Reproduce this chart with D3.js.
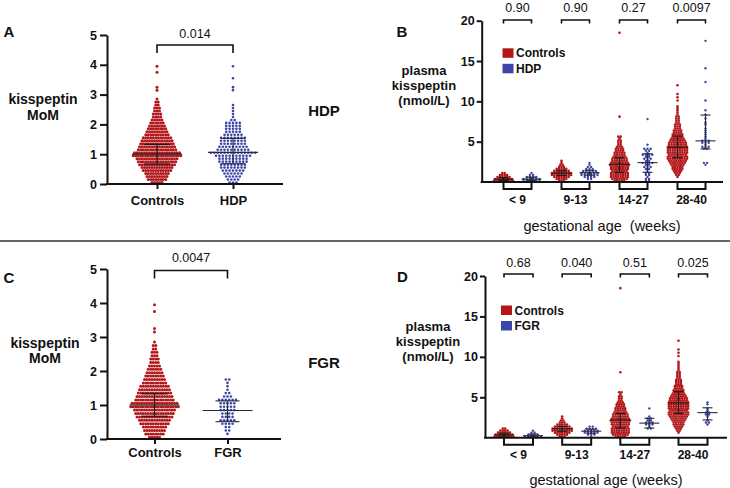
<!DOCTYPE html>
<html>
<head>
<meta charset="utf-8">
<script src="https://cdn.jsdelivr.net/npm/d3@7"></script>
<style>
  body { margin: 0; background: #fff; }
  text { font-family: "Liberation Sans", Arial, sans-serif; }
</style>
</head>
<body>
<svg id="chart" width="730" height="488"></svg>
<script>
const momBinWidth = 0.1;   // kisspeptin MoM bins: 0-0.1, 0.1-0.2, ...
const controlsMoM = [5, 8, 9, 10, 12, 13, 15, 16, 17, 20, 19, 16, 15, 14, 13, 12, 10, 9, 8, 7,
                     6, 5, 4, 4, 3, 3, 2, 2, 1, 0, 0, 1, 1, 0, 0, 0, 0, 1, 0, 1];
const hdpMoM = [3, 4, 5, 6, 7, 8, 8, 9, 9, 11, 14, 10, 9, 8, 8, 8, 6, 5, 5, 5,
                5, 2, 1, 1, 1, 1, 1, 0, 0, 0, 0, 1, 1, 0, 0, 1, 0, 0, 0, 1];
const fgrMoM = [0, 1, 2, 2, 4, 5, 4, 4, 5, 5, 5, 6, 3, 2, 1, 1, 1, 2];
// [lower quartile, median, upper quartile]
const controlsMoMStats = [0.67, 1.0, 1.33];
const hdpMoMStats = [0.68, 1.06, 1.53];
const fgrMoMStats = [0.51, 0.84, 1.12];
const pHdpMoM = "0.014";
const pFgrMoM = "0.0047";

const ageGroups = ["< 9", "9-13", "14-27", "28-40"];
const concBinWidth = 0.25; // plasma kisspeptin bins (nmol/L)
const controlsConc = [
  [9, 8, 6, 4, 2],
  [3, 5, 7, 9, 9, 7, 5, 3, 2, 1, 1],
  [5, 7, 8, 8, 8, 7, 8, 8, 9, 8, 7, 7, 6, 5, 5, 4, 4, 3, 2, 2, 2, 1, 2],
  [0, 0, 1, 2, 3, 4, 5, 5, 6, 7, 8, 9, 9, 8, 9, 9, 9, 9, 8, 8, 7, 6, 5, 5, 4, 4, 3, 3, 3, 2,
   2, 2, 2, 1, 1, 1, 1, 1]
];
const controlsConcOutliers = [[], [], [8.1, 18.5], [10.1, 10.5, 10.9, 12.0]];
const hdpConc = [
  [6, 6, 4, 2, 1],
  [0, 2, 4, 6, 6, 5, 3, 2, 1, 1],
  [2, 2, 1, 2, 2, 1, 2, 3, 2, 4, 2, 3, 2, 4, 1, 2, 3, 0, 1],
  [0, 0, 0, 0, 0, 0, 0, 0, 1, 2, 0, 0, 0, 0, 0, 0, 2, 3, 1, 3, 3, 1, 1, 1, 1, 1, 1, 0, 1, 1,
   0, 1, 0, 1]
];
const hdpConcOutliers = [[], [], [7.8], [8.9, 10.1, 12.4, 14.1, 17.5]];
const fgrConc = [
  [6, 4, 2, 1],
  [1, 3, 5, 5, 4, 2],
  [0, 0, 0, 0, 2, 1, 3, 3, 2, 2, 1, 0, 0, 0, 1],
  [0, 0, 0, 0, 0, 0, 1, 2, 1, 0, 1, 2, 2, 1, 1, 0, 1, 1]
];
const fgrConcOutliers = [[], [], [], []];
const controlsConcStats = [[0.2, 0.35, 0.55], [0.8, 1.1, 1.4], [1.2, 2.2, 3.0], [3.0, 4.3, 5.7]];
const hdpConcStats = [[0.2, 0.35, 0.6], [0.85, 1.15, 1.45], [1.2, 2.4, 3.5], [4.1, 5.1, 8.3]];
const fgrConcStats = [[0.1, 0.25, 0.45], [0.55, 0.8, 1.05], [1.2, 1.8, 2.4], [2.2, 3.1, 3.7]];
const pHdpConc = ["0.90", "0.90", "0.27", "0.0097"];
const pFgrConc = ["0.68", "0.040", "0.51", "0.025"];

const RED = "#b2181b";
const BLUE = "#3c46a6";
const svg = d3.select("#chart");

// turn bin counts into points; each point knows its slot in the row
function histPoints(counts, binWidth, extra) {
  const pts = [];
  counts.forEach(function(n, i) {
    for (let k = 0; k < n; k++) pts.push({ v: (i + 0.5) * binWidth, k: k, n: n });
  });
  (extra || []).forEach(function(v) { pts.push({ v: v, k: 0, n: 1 }); });
  return pts;
}

function drawDots(g, pts, cx, y, spacing, r, color) {
  g.append("g").selectAll("circle")
    .data(pts)
    .join("circle")
    .attr("cx", d => cx + (d.k - (d.n - 1) / 2) * spacing)
    .attr("cy", d => y(d.v))
    .attr("r", r)
    .attr("fill", color);
}

function drawStats(g, s, cx, y, wMed, wQ, color, sw) {
  const lg = g.append("g").attr("stroke", color).attr("stroke-width", sw);
  lg.append("line").attr("x1", cx).attr("x2", cx).attr("y1", y(s[0])).attr("y2", y(s[2]));
  [s[0], s[2]].forEach(function(v) {
    lg.append("line").attr("x1", cx - wQ).attr("x2", cx + wQ).attr("y1", y(v)).attr("y2", y(v));
  });
  lg.append("line").attr("x1", cx - wMed).attr("x2", cx + wMed).attr("y1", y(s[1])).attr("y2", y(s[1]));
}

function label(txt, x, y, size, weight, anchor) {
  return svg.append("text")
    .attr("x", x).attr("y", y)
    .attr("font-size", size)
    .attr("font-weight", weight || "normal")
    .attr("text-anchor", anchor || "middle")
    .attr("fill", "#111")
    .style("white-space", "pre")
    .text(txt);
}

function styleAxis(a, size) {
  a.selectAll("path").attr("stroke", "#111").attr("stroke-width", 2);
  a.selectAll("line").attr("stroke", "#111").attr("stroke-width", 2);
  a.selectAll("text").attr("font-size", size).attr("font-weight", "bold").attr("fill", "#111")
    .attr("font-family", "Liberation Sans, Arial, sans-serif");
}

// ---- MoM panels (A, C) ----
function momPanel(o) {
  const g = svg.append("g");
  const y = d3.scaleLinear().domain([0, 5]).range([o.y0, o.y5]);
  const x = d3.scalePoint().domain(["Controls", o.caseName]).range(o.xr);

  drawDots(g, histPoints(controlsMoM, momBinWidth), x("Controls"), y, 2.5, 1.5, RED);
  drawDots(g, histPoints(o.caseCounts, momBinWidth), x(o.caseName), y, 3.4, 1.3, BLUE);
  drawStats(g, controlsMoMStats, x("Controls"), y, 25, 13, "#1a1a1a", 1.2);
  drawStats(g, o.caseStats, x(o.caseName), y, 25, 12, "#2a2a3a", 1.1);

  const ya = g.append("g").attr("transform", `translate(${o.axisX},0)`)
    .call(d3.axisLeft(y).ticks(5).tickFormat(d3.format("d")).tickSize(7).tickSizeOuter(0).tickPadding(3));
  styleAxis(ya, 12.5);

  g.append("line").attr("x1", o.axisX - 1).attr("x2", o.xEnd)
    .attr("y1", o.y0).attr("y2", o.y0).attr("stroke", "#111").attr("stroke-width", 2);
  const xa = g.append("g").attr("transform", `translate(0,${o.y0})`)
    .call(d3.axisBottom(x).tickSize(5).tickPadding(o.labelPad));
  xa.select(".domain").remove();
  styleAxis(xa, 13);

  // significance bracket
  g.append("path")
    .attr("d", `M${x("Controls")},${o.bracketY + 8}V${o.bracketY}H${x(o.caseName)}V${o.bracketY + 8}`)
    .attr("fill", "none").attr("stroke", "#111").attr("stroke-width", 1.6);
  label(o.p, (x("Controls") + x(o.caseName)) / 2, o.pY, 12.5);

  label(o.letter, 9, o.letterY, 15, "bold");
  label("kisspeptin", o.titleX, o.titleY[0], 14, "bold");
  label("MoM", o.titleX, o.titleY[1], 14, "bold");
  label(o.caseName, 324, o.midY, 15, "bold");
}

// ---- concentration by gestational age panels (B, D) ----
function concPanel(o) {
  const g = svg.append("g");
  const y = d3.scaleLinear().domain([0, 20]).range([o.y0, o.y20]);
  const gx = d3.scalePoint().domain(ageGroups).range(o.gr);

  ageGroups.forEach(function(grp, i) {
    const cc = gx(grp) - o.off;
    const ck = gx(grp) + o.off;
    drawDots(g, histPoints(controlsConc[i], concBinWidth, controlsConcOutliers[i]), cc, y, 2.4, 1.3, RED);
    drawDots(g, histPoints(o.caseConc[i], concBinWidth, o.caseOutliers[i]), ck, y, 3.2, 1.2, BLUE);
    drawStats(g, controlsConcStats[i], cc, y, 10, 5, "#1a1a1a", 1.1);
    drawStats(g, o.caseStats[i], ck, y, 10, 5, "#2a2a3a", 1.1);

    // bracket under the axis
    g.append("path")
      .attr("d", `M${cc},${o.y0}V${o.y0 + 7}H${ck}V${o.y0}`)
      .attr("fill", "none").attr("stroke", "#111").attr("stroke-width", 2);
    // p-value bracket
    g.append("path")
      .attr("d", `M${cc},${o.bracketY + 3.5}V${o.bracketY}H${ck}V${o.bracketY + 3.5}`)
      .attr("fill", "none").attr("stroke", "#111").attr("stroke-width", 1.6);
    label(o.p[i], gx(grp), o.pY, 12.5);
    label(grp, gx(grp), o.catY, 12, "bold");
  });

  const ya = g.append("g").attr("transform", `translate(${o.axisX},0)`)
    .call(d3.axisLeft(y).tickValues([5, 10, 15, 20]).tickSize(5).tickSizeOuter(0).tickPadding(2));
  styleAxis(ya, 12.5);
  g.append("line").attr("x1", o.axisX - 1).attr("x2", o.xEnd)
    .attr("y1", o.y0).attr("y2", o.y0).attr("stroke", "#111").attr("stroke-width", 2);

  // legend
  [["Controls", RED], [o.caseName, BLUE]].forEach(function(d, i) {
    g.append("rect").attr("x", o.legX).attr("y", o.legY + i * 15.5)
      .attr("width", 11).attr("height", 9.5).attr("fill", d[1]);
    label(d[0], o.legX + 13.5, o.legY + 9 + i * 15.5, 12, "bold", "start");
  });

  label(o.letter, o.letterX, o.letterY, 15, "bold");
  label("plasma", o.titleX, o.titleY, 13, "bold");
  label("kisspeptin", o.titleX, o.titleY + 15, 13, "bold");
  label("(nmol/L)", o.titleX, o.titleY + 30, 13, "bold");
  label(o.xTitle, o.xTitleX, o.xTitleY, 14.5);
}

momPanel({
  letter: "A", caseName: "HDP", caseCounts: hdpMoM, caseStats: hdpMoMStats, p: pHdpMoM,
  y0: 184, y5: 35, axisX: 107, xEnd: 283, xr: [157, 233], labelPad: 7,
  bracketY: 45, pY: 37.5, letterY: 37, titleX: 43, titleY: [104, 120], midY: 115.5
});
momPanel({
  letter: "C", caseName: "FGR", caseCounts: fgrMoM, caseStats: fgrMoMStats, p: pFgrMoM,
  y0: 439, y5: 269, axisX: 107, xEnd: 281, xr: [154.5, 227.5], labelPad: 4,
  bracketY: 270.5, pY: 262, letterY: 283, titleX: 45, titleY: [348, 363], midY: 368
});
concPanel({
  letter: "B", caseName: "HDP", caseConc: hdpConc, caseOutliers: hdpConcOutliers,
  caseStats: hdpConcStats, p: pHdpConc,
  y0: 182, y20: 20.7, axisX: 481.7, xEnd: 723, gr: [517.5, 691.5], off: 14,
  bracketY: 20, pY: 11.5, catY: 203.5, legX: 502.5, legY: 48.3,
  letterX: 402, letterY: 37, titleX: 424, titleY: 75,
  xTitle: "gestational age  (weeks)", xTitleX: 602, xTitleY: 231
});
concPanel({
  letter: "D", caseName: "FGR", caseConc: fgrConc, caseOutliers: fgrConcOutliers,
  caseStats: fgrConcStats, p: pFgrConc,
  y0: 437.7, y20: 276, axisX: 485, xEnd: 727, gr: [518.5, 693], off: 14.5,
  bracketY: 274, pY: 267, catY: 459, legX: 501, legY: 305.5,
  letterX: 402.5, letterY: 282, titleX: 428, titleY: 331,
  xTitle: "gestational age (weeks)", xTitleX: 606, xTitleY: 485
});

// divider between the two rows
svg.append("line").attr("x1", 0).attr("x2", 730).attr("y1", 241).attr("y2", 241)
  .attr("stroke", "#333").attr("stroke-width", 1.5);
</script>
</body>
</html>
